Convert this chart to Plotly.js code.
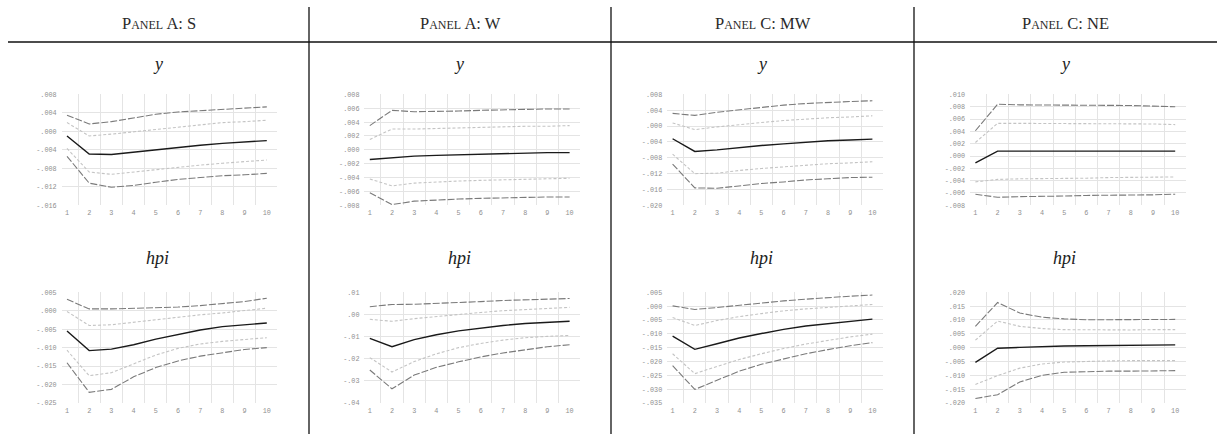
<!DOCTYPE html>
<html>
<head>
<meta charset="utf-8">
<script src="https://cdn.plot.ly/plotly-3.0.1.min.js"></script>
<style>
  html, body { margin: 0; padding: 0; background: #fff; }
  #chart { width: 1219px; height: 434px; }
</style>
</head>
<body>
<div id="chart"></div>
<script>
// Impulse responses of y and hpi by region: point estimate with 68% and 95% bands
const horizon = [1, 2, 3, 4, 5, 6, 7, 8, 9, 10];

const panelTitles = ["Panel A: S", "Panel A: W", "Panel C: MW", "Panel C: NE"];
const rowTitles = ["y", "hpi"];

// South
const S_y_hi95 = [0.0035, 0.0016, 0.0021, 0.0029, 0.0037, 0.0042, 0.0045, 0.0048, 0.0050, 0.0053];
const S_y_hi68 = [0.0019, -0.0010, -0.0006, -0.0001, 0.0005, 0.0010, 0.0014, 0.0019, 0.0021, 0.0024];
const S_y_irf  = [-0.0010, -0.0049, -0.0050, -0.0045, -0.0039, -0.0034, -0.0030, -0.0026, -0.0023, -0.0020];
const S_y_lo68 = [-0.0037, -0.0088, -0.0093, -0.0088, -0.0082, -0.0077, -0.0073, -0.0069, -0.0065, -0.0062];
const S_y_lo95 = [-0.0054, -0.0112, -0.0121, -0.0117, -0.0110, -0.0104, -0.0100, -0.0096, -0.0094, -0.0091];
const S_y_ticks = [-0.016, -0.012, -0.008, -0.004, 0.000, 0.004, 0.008];

const S_hpi_hi95 = [0.0031, 0.0005, 0.0005, 0.0006, 0.0008, 0.0010, 0.0014, 0.0019, 0.0025, 0.0034];
const S_hpi_hi68 = [-0.0002, -0.0040, -0.0038, -0.0031, -0.0025, -0.0018, -0.0011, -0.0006, 0.0000, 0.0007];
const S_hpi_irf  = [-0.0055, -0.0108, -0.0104, -0.0092, -0.0077, -0.0064, -0.0052, -0.0043, -0.0038, -0.0033];
const S_hpi_lo68 = [-0.0107, -0.0176, -0.0168, -0.0143, -0.0120, -0.0102, -0.0090, -0.0083, -0.0077, -0.0073];
const S_hpi_lo95 = [-0.0141, -0.0221, -0.0213, -0.0179, -0.0154, -0.0136, -0.0123, -0.0114, -0.0105, -0.0100];
const S_hpi_ticks = [-0.025, -0.020, -0.015, -0.010, -0.005, 0.000, 0.005];

// West
const W_y_hi95 = [0.0035, 0.0057, 0.0055, 0.0055, 0.0056, 0.0057, 0.0058, 0.0059, 0.0059, 0.0059];
const W_y_hi68 = [0.0015, 0.0030, 0.0030, 0.0031, 0.0032, 0.0032, 0.0033, 0.0034, 0.0034, 0.0035];
const W_y_irf  = [-0.0014, -0.0011, -0.0009, -0.0008, -0.0007, -0.0006, -0.0005, -0.0005, -0.0004, -0.0004];
const W_y_lo68 = [-0.0042, -0.0052, -0.0048, -0.0046, -0.0045, -0.0044, -0.0043, -0.0042, -0.0042, -0.0041];
const W_y_lo95 = [-0.0062, -0.0079, -0.0074, -0.0072, -0.0071, -0.0070, -0.0069, -0.0068, -0.0068, -0.0068];
const W_y_ticks = [-0.008, -0.006, -0.004, -0.002, 0.000, 0.002, 0.004, 0.006, 0.008];

const W_hpi_hi95 = [0.0035, 0.0045, 0.0046, 0.0049, 0.0054, 0.0058, 0.0063, 0.0066, 0.0069, 0.0072];
const W_hpi_hi68 = [-0.0022, -0.0031, -0.0019, -0.0009, 0.0000, 0.0009, 0.0017, 0.0023, 0.0027, 0.0032];
const W_hpi_irf  = [-0.0108, -0.0146, -0.0114, -0.0092, -0.0074, -0.0061, -0.0050, -0.0041, -0.0035, -0.0031];
const W_hpi_lo68 = [-0.0195, -0.0260, -0.0213, -0.0178, -0.0150, -0.0131, -0.0116, -0.0105, -0.0099, -0.0095];
const W_hpi_lo95 = [-0.0251, -0.0336, -0.0274, -0.0239, -0.0214, -0.0192, -0.0174, -0.0160, -0.0146, -0.0137];
const W_hpi_ticks = [-0.04, -0.03, -0.02, -0.01, 0.00, 0.01];

// Midwest
const MW_y_hi95 = [0.0032, 0.0027, 0.0035, 0.0041, 0.0048, 0.0053, 0.0057, 0.0060, 0.0062, 0.0064];
const MW_y_hi68 = [0.0008, -0.0009, -0.0002, 0.0004, 0.0009, 0.0014, 0.0018, 0.0021, 0.0023, 0.0026];
const MW_y_irf  = [-0.0032, -0.0064, -0.0060, -0.0054, -0.0049, -0.0045, -0.0041, -0.0037, -0.0035, -0.0033];
const MW_y_lo68 = [-0.0071, -0.0120, -0.0119, -0.0112, -0.0107, -0.0103, -0.0099, -0.0095, -0.0093, -0.0090];
const MW_y_lo95 = [-0.0096, -0.0156, -0.0157, -0.0151, -0.0145, -0.0141, -0.0136, -0.0133, -0.0130, -0.0129];
const MW_y_ticks = [-0.020, -0.016, -0.012, -0.008, -0.004, 0.000, 0.004, 0.008];

const MW_hpi_hi95 = [0.0001, -0.0012, -0.0005, 0.0003, 0.0012, 0.0019, 0.0025, 0.0031, 0.0036, 0.0040];
const MW_hpi_hi68 = [-0.0041, -0.0070, -0.0052, -0.0038, -0.0027, -0.0017, -0.0010, -0.0004, 0.0001, 0.0006];
const MW_hpi_irf  = [-0.0108, -0.0156, -0.0136, -0.0115, -0.0099, -0.0084, -0.0072, -0.0063, -0.0054, -0.0047];
const MW_hpi_lo68 = [-0.0172, -0.0244, -0.0218, -0.0193, -0.0172, -0.0153, -0.0137, -0.0124, -0.0111, -0.0101];
const MW_hpi_lo95 = [-0.0215, -0.0301, -0.0268, -0.0235, -0.0210, -0.0190, -0.0172, -0.0157, -0.0143, -0.0132];
const MW_hpi_ticks = [-0.035, -0.030, -0.025, -0.020, -0.015, -0.010, -0.005, 0.000, 0.005];

// Northeast
const NE_y_hi95 = [0.0041, 0.0084, 0.0083, 0.0083, 0.0083, 0.0083, 0.0082, 0.0082, 0.0081, 0.0080];
const NE_y_hi68 = [0.0022, 0.0053, 0.0053, 0.0053, 0.0053, 0.0053, 0.0053, 0.0052, 0.0052, 0.0051];
const NE_y_irf  = [-0.0011, 0.0008, 0.0008, 0.0008, 0.0008, 0.0008, 0.0008, 0.0008, 0.0008, 0.0008];
const NE_y_lo68 = [-0.0042, -0.0038, -0.0037, -0.0037, -0.0036, -0.0036, -0.0035, -0.0035, -0.0035, -0.0034];
const NE_y_lo95 = [-0.0062, -0.0067, -0.0066, -0.0066, -0.0065, -0.0064, -0.0064, -0.0063, -0.0063, -0.0062];
const NE_y_ticks = [-0.008, -0.006, -0.004, -0.002, 0.000, 0.002, 0.004, 0.006, 0.008, 0.010];

const NE_hpi_hi95 = [0.0077, 0.0163, 0.0125, 0.0110, 0.0104, 0.0101, 0.0101, 0.0101, 0.0101, 0.0102];
const NE_hpi_hi68 = [0.0027, 0.0096, 0.0077, 0.0069, 0.0065, 0.0064, 0.0064, 0.0064, 0.0065, 0.0065];
const NE_hpi_irf  = [-0.0053, -0.0002, 0.0001, 0.0004, 0.0006, 0.0007, 0.0008, 0.0008, 0.0009, 0.0010];
const NE_hpi_lo68 = [-0.0133, -0.0101, -0.0074, -0.0059, -0.0052, -0.0049, -0.0048, -0.0047, -0.0047, -0.0047];
const NE_hpi_lo95 = [-0.0184, -0.0170, -0.0124, -0.0100, -0.0089, -0.0086, -0.0085, -0.0085, -0.0084, -0.0083];
const NE_hpi_ticks = [-0.020, -0.015, -0.010, -0.005, 0.000, 0.005, 0.010, 0.015, 0.020];

// Panels in reading order: top row (y) then bottom row (hpi)
const panels = [
  { lo95: S_y_lo95,  lo68: S_y_lo68,  irf: S_y_irf,  hi68: S_y_hi68,  hi95: S_y_hi95,  ticks: S_y_ticks,  dec: 3 },
  { lo95: W_y_lo95,  lo68: W_y_lo68,  irf: W_y_irf,  hi68: W_y_hi68,  hi95: W_y_hi95,  ticks: W_y_ticks,  dec: 3 },
  { lo95: MW_y_lo95, lo68: MW_y_lo68, irf: MW_y_irf, hi68: MW_y_hi68, hi95: MW_y_hi95, ticks: MW_y_ticks, dec: 3 },
  { lo95: NE_y_lo95, lo68: NE_y_lo68, irf: NE_y_irf, hi68: NE_y_hi68, hi95: NE_y_hi95, ticks: NE_y_ticks, dec: 3 },
  { lo95: S_hpi_lo95,  lo68: S_hpi_lo68,  irf: S_hpi_irf,  hi68: S_hpi_hi68,  hi95: S_hpi_hi95,  ticks: S_hpi_ticks,  dec: 3 },
  { lo95: W_hpi_lo95,  lo68: W_hpi_lo68,  irf: W_hpi_irf,  hi68: W_hpi_hi68,  hi95: W_hpi_hi95,  ticks: W_hpi_ticks,  dec: 2 },
  { lo95: MW_hpi_lo95, lo68: MW_hpi_lo68, irf: MW_hpi_irf, hi68: MW_hpi_hi68, hi95: MW_hpi_hi95, ticks: MW_hpi_ticks, dec: 3 },
  { lo95: NE_hpi_lo95, lo68: NE_hpi_lo68, irf: NE_hpi_irf, hi68: NE_hpi_hi68, hi95: NE_hpi_hi95, ticks: NE_hpi_ticks, dec: 3 }
];

const W = 1219, H = 434;
const px = v => v / W;          // horizontal pixel -> paper fraction
const py = v => 1 - v / H;      // vertical pixel (from top) -> paper fraction

// Stata-style tick label: no leading zero, e.g. ".004", "-.012"
function fmtTick(v, dec) {
  let s = Math.abs(v).toFixed(dec).replace(/^0/, "");
  return (v < -1e-12 ? "-" : "") + s;
}

const tickFont = { family: "Liberation Mono, DejaVu Sans Mono, monospace", size: 6.8, color: "#8f8f8f" };
const gridColor = "#e4e4e4";

const bandStyles = {
  hi95: { color: "#7a7a7a", width: 1.1, dash: "7px,2px" },
  hi68: { color: "#c4c4c4", width: 1.1, dash: "3px,2px" },
  irf:  { color: "#1a1a1a", width: 1.4, dash: "solid" },
  lo68: { color: "#c4c4c4", width: 1.1, dash: "3px,2px" },
  lo95: { color: "#7a7a7a", width: 1.1, dash: "7px,2px" }
};

const colStart = 67;       // pixel position of horizon 1 in the first column
const colStep = 302.8;     // column spacing
const unit = 22.2;         // pixels per horizon step
const xRange = [0.76, 10.48];
const rowTop = [94.4, 292.3];
const rowBottom = [205.3, 403.0];

const traces = [];
const layout = {
  width: W, height: H,
  margin: { l: 0, r: 0, t: 0, b: 0 },
  paper_bgcolor: "#fff",
  plot_bgcolor: "#fff",
  showlegend: false,
  annotations: [],
  shapes: []
};

panels.forEach((p, i) => {
  const col = i % 4, row = Math.floor(i / 4);
  const n = i + 1;
  const xa = n === 1 ? "x" : "x" + n;
  const ya = n === 1 ? "y" : "y" + n;

  ["hi95", "hi68", "lo68", "lo95", "irf"].forEach(k => {
    traces.push({
      type: "scatter", mode: "lines",
      x: horizon, y: p[k],
      xaxis: xa, yaxis: ya,
      line: Object.assign({}, bandStyles[k]),
      hoverinfo: "skip"
    });
  });

  const x1 = colStart + col * colStep;
  const left = x1 - (1 - xRange[0]) * unit;
  const right = left + (xRange[1] - xRange[0]) * unit;

  layout[n === 1 ? "xaxis" : "xaxis" + n] = {
    domain: [px(left), px(right)],
    anchor: ya,
    range: xRange,
    tickmode: "array",
    tickvals: horizon,
    ticktext: horizon.map(String),
    showgrid: false,
    zeroline: false,
    showline: false,
    ticks: "",
    ticklabelstandoff: 2,
    tickfont: tickFont,
    minor: {
      tickmode: "array",
      tickvals: horizon.slice(0, 9).map(h => h + 0.5),
      showgrid: true, gridcolor: gridColor, gridwidth: 1, ticks: ""
    },
    fixedrange: true
  };
  layout[n === 1 ? "yaxis" : "yaxis" + n] = {
    domain: [py(rowBottom[row]), py(rowTop[row])],
    anchor: xa,
    range: [p.ticks[0], p.ticks[p.ticks.length - 1]],
    tickmode: "array",
    tickvals: p.ticks,
    ticktext: p.ticks.map(v => fmtTick(v, p.dec)),
    showgrid: true, gridcolor: gridColor, gridwidth: 1,
    zeroline: false,
    showline: false,
    ticks: "",
    ticklabelstandoff: 4,
    tickfont: tickFont,
    fixedrange: true
  };
});

// Column separators and header rule
const sepX = [309, 611, 914];
layout.shapes.push({
  type: "line", xref: "paper", yref: "paper",
  x0: px(8), x1: px(1217), y0: py(42), y1: py(42),
  line: { color: "#111", width: 1.3 }
});
sepX.forEach(x => layout.shapes.push({
  type: "line", xref: "paper", yref: "paper",
  x0: px(x), x1: px(x), y0: py(7), y1: py(434),
  line: { color: "#111", width: 1.3 }
}));

// Column headers (small caps) and row titles (italic)
const colCenters = [158.5, 460, 762.5, 1065.5];
panelTitles.forEach((t, c) => {
  layout.annotations.push({
    text: t, xref: "paper", yref: "paper",
    x: px(colCenters[c]), y: py(23), xanchor: "center", yanchor: "middle",
    showarrow: false,
    font: { family: "Liberation Serif, DejaVu Serif, serif", size: 16.5, color: "#2a2a2a", variant: "small-caps" }
  });
  rowTitles.forEach((rt, r) => {
    layout.annotations.push({
      text: "<i>" + rt + "</i>", xref: "paper", yref: "paper",
      x: px(colCenters[c] - 1), y: py(r === 0 ? 64 : 258), xanchor: "center", yanchor: "middle",
      showarrow: false,
      font: { family: "Liberation Serif, DejaVu Serif, serif", size: 18, color: "#222" }
    });
  });
});

Plotly.newPlot("chart", traces, layout, { staticPlot: true, displayModeBar: false });
</script>
</body>
</html>
